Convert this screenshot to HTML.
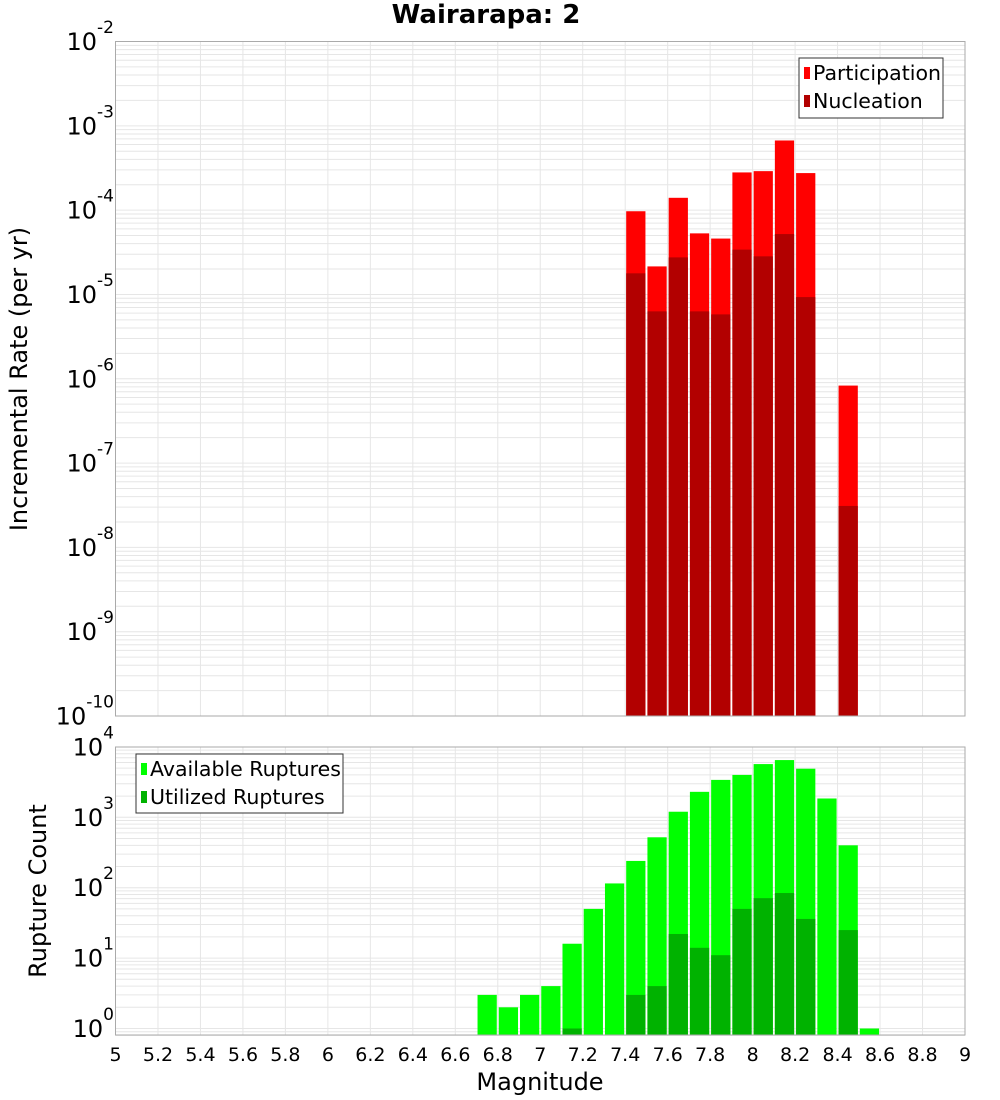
<!DOCTYPE html>
<html><head><meta charset="utf-8"><style>
body{margin:0;background:#fff}
svg{display:block;font-family:"DejaVu Sans","Liberation Sans",sans-serif}
</style></head><body>
<svg id="c" width="1000" height="1100" xmlns="http://www.w3.org/2000/svg"></svg>
<script>
const magBins = [7.45,7.55,7.65,7.75,7.85,7.95,8.05,8.15,8.25,8.45];
const participation = [9.7e-5,2.15e-5,1.4e-4,5.3e-5,4.6e-5,2.8e-4,2.9e-4,6.7e-4,2.75e-4,8.3e-7];
const nucleation = [1.78e-5,6.3e-6,2.75e-5,6.3e-6,5.8e-6,3.4e-5,2.83e-5,5.2e-5,9.3e-6,3.1e-8];
const countBins = [6.75,6.85,6.95,7.05,7.15,7.25,7.35,7.45,7.55,7.65,7.75,7.85,7.95,8.05,8.15,8.25,8.35,8.45,8.55];
const available = [3,2,3,4,16,50,115,240,520,1200,2300,3400,4000,5700,6500,4900,1850,400,1];
const utilizedBins = [7.15,7.45,7.55,7.65,7.75,7.85,7.95,8.05,8.15,8.25,8.45];
const utilized = [1,3,4,22,14,11,50,71,84,36,25];
const xTicks = ["5","5.2","5.4","5.6","5.8","6","6.2","6.4","6.6","6.8","7","7.2","7.4","7.6","7.8","8","8.2","8.4","8.6","8.8","9"];
const topExp = [-2,-3,-4,-5,-6,-7,-8,-9,-10];
const botExp = [0,1,2,3,4];

const svg=document.getElementById('c');
const NS='http://www.w3.org/2000/svg';
function el(t,a,p){const e=document.createElementNS(NS,t);for(const k in a)e.setAttribute(k,a[k]);(p||svg).appendChild(e);return e;}
const X0=115.5,X1=965;
const x=m=>X0+(m-5)/4*(X1-X0);
const T0=41.5,T1=716;
const yTop=v=>T0+(-2-Math.log10(v))*(T1-T0)/8;
const B0=747,B1=1035,BZ=1028.5,BD=70.4;
const yBot=v=>BZ-Math.log10(v)*BD;

function grid(y0,y1,yf,emin,emax,gname){
  const g=el('g',{});
  
  
  for(let e=emin;e<=emax;e++)for(let k=1;k<10;k++){
    const yy=yf(k*Math.pow(10,e));
    if(yy<y0-0.5||yy>y1+0.5)continue;
    el('line',{x1:X0,x2:X1,y1:yy,y2:yy,stroke:'#e6e6e6','stroke-width':1},g);
  }
  for(let i=0;i<xTicks.length;i++){const xx=x(+xTicks[i]);el('line',{x1:xx,x2:xx,y1:y0,y2:y1,stroke:'#e6e6e6','stroke-width':1},g);}
}
grid(T0,T1,yTop,-10,-3,'top-grid');
grid(B0,B1,yBot,-1,3,'bottom-grid');

function bars(bins,vals,yf,base,color,name){
  const g=el('g',{});
  
  
  bins.forEach((m,i)=>{
    const xl=x(m-0.05)+1,xr=x(m+0.05)-1;
    const yy=Math.max(yf(vals[i]),0);
    const r=el('rect',{x:xl,y:yy,width:xr-xl,height:Math.max(0,base-yy),fill:color},g);
    
    
  });
}
bars(magBins,participation,yTop,T1,'#ff0000','participation');
bars(magBins,nucleation,yTop,T1,'#b20000','nucleation');
bars(countBins,available,yBot,B1,'#00ff00','available-ruptures');
bars(utilizedBins,utilized,yBot,B1,'#00b200','utilized-ruptures');

let f=el('rect',{x:X0,y:T0,width:X1-X0,height:T1-T0,fill:'none',stroke:'#aaa','stroke-width':1});

f=el('rect',{x:X0,y:B0,width:X1-X0,height:B1-B0,fill:'none',stroke:'#aaa','stroke-width':1});


function ylabel(yy,e,name){
  const t=el('text',{x:114,y:yy+8.5,'text-anchor':'end','font-size':24,fill:'#000'});
  
  
  t.appendChild(document.createTextNode('10'));
  const s=el('tspan',{'font-size':17,dy:-17},t);s.textContent=String(e);
}
topExp.forEach(e=>ylabel(yTop(Math.pow(10,e)),e,'y-tick-label'));
botExp.forEach(e=>ylabel(yBot(Math.pow(10,e)),e,'y-tick-label'));

xTicks.forEach(s=>{
  const t=el('text',{x:x(+s),y:1061,'text-anchor':'middle','font-size':19,fill:'#000'});
  
  t.textContent=s;
});

let t=el('text',{x:486,y:23,'text-anchor':'middle','font-size':26,'font-weight':'bold'});
t.textContent='Wairarapa: 2';
t=el('text',{x:540,y:1090,'text-anchor':'middle','font-size':24});
t.textContent='Magnitude';
t=el('text',{x:0,y:0,'text-anchor':'middle','font-size':24,transform:'translate(27,379) rotate(-90)'});
t.textContent='Incremental Rate (per yr)';
t=el('text',{x:0,y:0,'text-anchor':'middle','font-size':24,transform:'translate(46,891) rotate(-90)'});
t.textContent='Rupture Count';

function legend(x0,y0,w,h,items,name){
  const g=el('g',{});
  
  el('rect',{x:x0,y:y0,width:w,height:h,fill:'#fff',stroke:'#333','stroke-width':1},g);
  items.forEach((it,i)=>{
    const cy=y0+15+i*28;
    el('rect',{x:x0+5,y:cy-6,width:6,height:12,fill:it[1]},g);
    const tt=el('text',{x:x0+14,y:cy+7,'font-size':20.5,fill:'#000'},g);
    
    tt.textContent=it[0];
  });
}
legend(799,58,144,60,[['Participation','#ff0000'],['Nucleation','#b20000']],'top-legend');
legend(136,754,207,59,[['Available Ruptures','#00ff00'],['Utilized Ruptures','#00b200']],'bottom-legend');
</script>
</body></html>
